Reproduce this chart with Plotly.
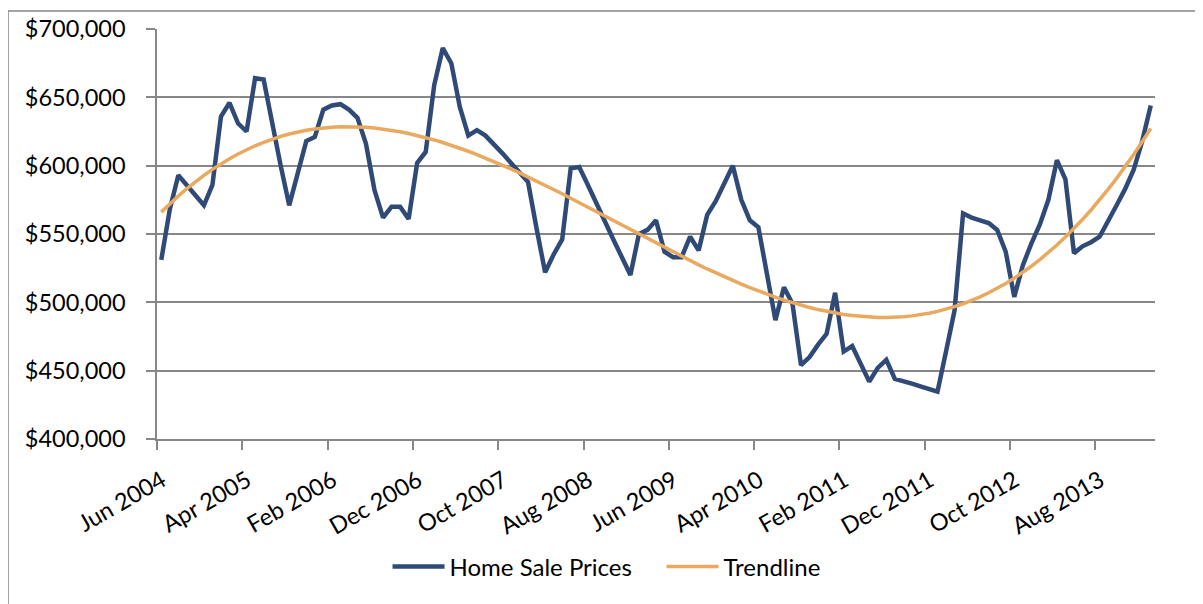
import numpy as np
import plotly.graph_objects as go

# Monthly home sale prices, Jun 2004 .. Feb 2014 (117 months)
prices = [
    531000, 568000, 593000, 586000, 579000, 571000, 586000, 636000, 646000, 631000,
    625000, 664000, 663000, 630000, 600000, 571000, 596000, 618000, 621000, 641000,
    644000, 645000, 641000, 635000, 616000, 582000, 562000, 570000, 570000, 561000,
    602000, 610000, 659000, 686000, 675000, 643000, 622000, 626000, 622000, 616000,
    609000, 602000, 595000, 588000, 554000, 522000, 535000, 546000, 598000, 599000,
    586000, 572000, 559000, 546000, 533000, 520000, 550000, 553000, 560000, 537000,
    533000, 533000, 548000, 538000, 564000, 574000, 587000, 600000, 575000, 560000,
    555000, 521000, 487000, 511000, 499000, 454000, 460000, 469000, 477000, 507000,
    464000, 468000, 455000, 442000, 452000, 458000, 444000, 442500, 440500, 438500,
    436600, 434600, 464000, 494000, 565000, 562000, 560000, 558000, 553000, 537000,
    504000, 527000, 543000, 557000, 575000, 604000, 590000, 536000, 541000, 544000,
    548000, 559000, 571000, 583000, 597000, 618000, 644000,
]
tick_labels = ["Jun 2004", "Apr 2005", "Feb 2006", "Dec 2006", "Oct 2007", "Aug 2008",
               "Jun 2009", "Apr 2010", "Feb 2011", "Dec 2011", "Oct 2012", "Aug 2013"]
label_step = 10
y_ticks = [400000, 450000, 500000, 550000, 600000, 650000, 700000]
trend_order = 3  # polynomial trendline

n = len(prices)
x_idx = np.arange(n)
coef = np.polyfit(x_idx + 1, prices, trend_order)
trend = np.polyval(coef, x_idx + 1)

BLUE = "#2F4A76"
ORANGE = "#E9A95F"
GRID = "#878787"
FONT = "Lato"

fig = go.Figure()
fig.add_trace(go.Scatter(x=x_idx, y=prices, mode="lines", name="Home Sale Prices",
                         line=dict(color=BLUE, width=4.5)))
fig.add_trace(go.Scatter(x=x_idx, y=trend, mode="lines", name="Trendline",
                         line=dict(color=ORANGE, width=3.5)))

fig.update_layout(
    width=1195, height=596,
    margin=dict(l=149, r=48, t=21, b=165, autoexpand=False),
    paper_bgcolor="white", plot_bgcolor="white",
    font=dict(family=FONT, size=23.5, color="black"),
    showlegend=True,
    legend=dict(orientation="h", x=0.231, xanchor="left", y=-0.312, yanchor="middle",
                font=dict(size=24), itemwidth=52, entrywidth=207, entrywidthmode="pixels"),
    shapes=[dict(type="rect", xref="paper", yref="paper",
                 x0=-0.1493, x1=1.08, y0=-0.45, y1=1.044,
                 line=dict(color=GRID, width=1.5), layer="below")],
)
fig.update_xaxes(
    range=[-0.5, n - 0.5],
    tickmode="array",
    tickvals=[i - 0.5 for i in range(0, n, label_step)],
    ticktext=tick_labels,
    tickangle=-30,
    ticks="outside", ticklen=9, tickcolor=GRID, tickwidth=1.5,
    ticklabelshift=5, ticklabelstandoff=8,
    showgrid=False, zeroline=False, automargin=False,
    showline=True, linecolor=GRID, linewidth=1.5,
    tickfont=dict(size=23.5),
)
fig.update_yaxes(
    range=[400000, 700000],
    tickmode="array", tickvals=y_ticks,
    ticktext=["${:,}".format(v) for v in y_ticks],
    ticks="outside", ticklen=9, tickcolor=GRID, tickwidth=1.5,
    ticklabelstandoff=16,
    showgrid=True, gridcolor=GRID, gridwidth=1.5,
    zeroline=False, automargin=False,
    showline=True, linecolor=GRID, linewidth=1.5,
    tickfont=dict(size=23.5),
)

fig.write_html("out.html")
